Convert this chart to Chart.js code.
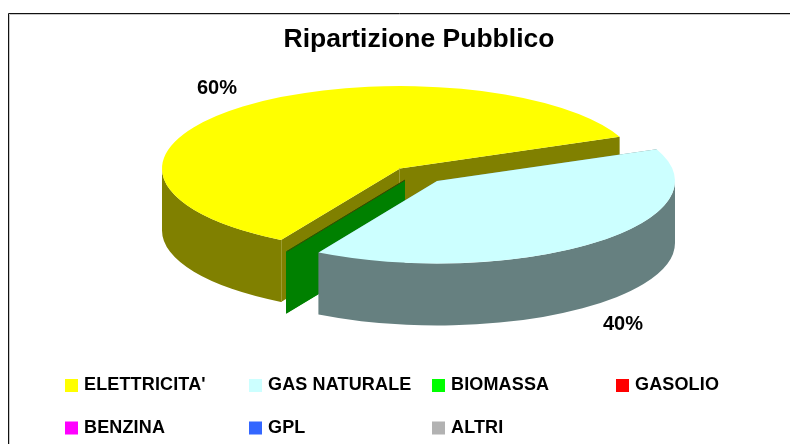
<!DOCTYPE html>
<html><head><meta charset="utf-8">
<style>html,body{margin:0;padding:0;background:#fff}#w{position:absolute;left:0;top:0;width:790px;height:444px}</style>
<script src="https://cdn.jsdelivr.net/npm/chart.js@4"></script></head>
<body><div id="w"><canvas id="c" width="790" height="444"></canvas></div>
<script>
const categories = ["ELETTRICITA'", "GAS NATURALE", "BIOMASSA", "GASOLIO", "BENZINA", "GPL", "ALTRI"];
const shareValues = [60.4, 39.6, 0.05, 0, 0, 0, 0];
const topColors = ["#FFFF00", "#CCFFFF", "#00FF00", "#FF0000", "#FF00FF", "#3366FF", "#B2B2B2"];
const wallColors = ["#808000", "#668080", "#008000", "#800000", "#800080", "#1A3380", "#595959"];
const sliceCentres = [[400,168.5],[437,181],[405,180],[400,168],[400,168],[400,168],[400,168]];
const drawOrder = [0, 3, 4, 5, 6, 2, 1];
const labelSpots = {0:[217,88], 1:[623,324]};
const legendCols = [65, 249, 432, 616], legendRows = [385.5, 428];
const RX = 238, RY = 82.5, DEPTH = 62;

const pie3d = {
  id: 'pie3d',
  beforeDatasetDraw(chart) {
    const ctx = chart.ctx, arcs = chart.getDatasetMeta(0).data;
    for (const i of drawOrder) {
      const arc = arcs[i];
      if (!shareValues[i]) continue;
      const [cx, cy] = sliceCentres[i], a0 = arc.startAngle, a1 = arc.endAngle;
      const rim = a => [cx + RX * Math.cos(a), cy + RY * Math.sin(a)];
      ctx.save();
      ctx.fillStyle = wallColors[i];
      for (const a of [a0, a1]) {
        const p = rim(a);
        ctx.beginPath();
        ctx.moveTo(cx, cy); ctx.lineTo(p[0], p[1]); ctx.lineTo(p[0], p[1] + DEPTH); ctx.lineTo(cx, cy + DEPTH);
        ctx.closePath(); ctx.fill();
      }
      // outer wall, front half only
      for (let k = -1; k <= 1; k++) {
        const s = Math.max(a0, k * 2 * Math.PI), e = Math.min(a1, k * 2 * Math.PI + Math.PI);
        if (e <= s) continue;
        ctx.beginPath();
        ctx.ellipse(cx, cy, RX, RY, 0, s, e);
        ctx.ellipse(cx, cy + DEPTH, RX, RY, 0, e, s, true);
        ctx.closePath(); ctx.fill();
      }
      ctx.restore();
      // top face: the library's own arc under a flattening transform
      ctx.save();
      ctx.translate(cx, cy);
      ctx.scale(RX / arc.outerRadius, RY / arc.outerRadius);
      ctx.translate(-arc.x, -arc.y);
      arc.draw(ctx);
      ctx.restore();
      if (i === 0) {
        // pale seam on the wall corners
        ctx.save(); ctx.strokeStyle = '#9C9C30'; ctx.lineWidth = 1;
        const p = rim(a0), x = Math.round(p[0]) + .5, ax = cx - .5;
        ctx.beginPath(); ctx.moveTo(x, p[1]); ctx.lineTo(x, p[1] + DEPTH);
        ctx.moveTo(ax, cy); ctx.lineTo(ax, cy + 20); ctx.stroke(); ctx.restore();
      }
      if (i === 2) {
        ctx.save(); ctx.strokeStyle = '#404000'; ctx.lineWidth = 1;
        const p = rim(a0);
        ctx.beginPath(); ctx.moveTo(cx, cy); ctx.lineTo(p[0], p[1]); ctx.stroke(); ctx.restore();
      }
    }
    return false;
  },
  afterDraw(chart) {
    const ctx = chart.ctx;
    ctx.save();
    ctx.strokeStyle = '#c8c8c8'; ctx.lineWidth = 1;
    ctx.beginPath(); ctx.moveTo(9.5, 444); ctx.lineTo(9.5, 14.5); ctx.lineTo(790, 14.5); ctx.stroke();
    ctx.strokeStyle = '#111';
    ctx.beginPath(); ctx.moveTo(8.5, 444); ctx.lineTo(8.5, 13.5); ctx.lineTo(790, 13.5); ctx.stroke();
    ctx.fillStyle = '#000'; ctx.textBaseline = 'middle'; ctx.textAlign = 'center';
    ctx.font = 'bold 20px "Liberation Sans"';
    const total = shareValues.reduce((a, b) => a + b, 0);
    for (const i in labelSpots) {
      ctx.fillText(Math.round(shareValues[i] / total * 100) + '%', labelSpots[i][0], labelSpots[i][1]);
    }
    ctx.textAlign = 'left';
    ctx.font = 'bold 18px "Liberation Sans"';
    ctx.letterSpacing = '0.15px';
    categories.forEach((name, i) => {
      const x = legendCols[i % 4], y = legendRows[Math.floor(i / 4)];
      ctx.fillStyle = topColors[i];
      ctx.fillRect(x, y - 6.5, 13, 13);
      ctx.fillStyle = '#000';
      ctx.fillText(name, x + 19, y);
    });
    ctx.restore();
  }
};

new Chart(document.getElementById('c'), {
  type: 'pie',
  data: { labels: categories, datasets: [{ data: shareValues, backgroundColor: topColors, borderWidth: 0 }] },
  plugins: [pie3d],
  options: {
    responsive: false, animation: false,
    rotation: 210,
    layout: { padding: { left: 48, top: 24 } },
    plugins: {
      legend: { display: false }, tooltip: { enabled: false },
      title: { display: true, text: 'Ripartizione Pubblico', color: '#000',
        font: { family: '"Liberation Sans"', size: 26.5, weight: 'bold' }, padding: 0 }
    }
  }
});
</script></body></html>
